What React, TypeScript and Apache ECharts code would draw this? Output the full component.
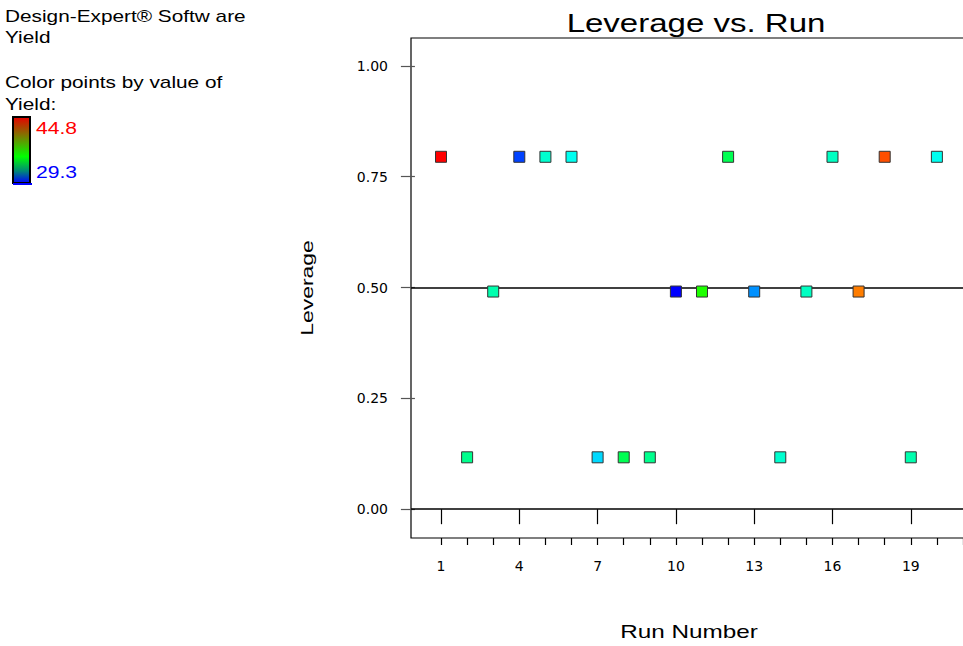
import React, { useEffect, useRef } from "react";
import * as echarts from "echarts";

const runs = [1, 2, 3, 4, 5, 6, 7, 8, 9, 10, 11, 12, 13, 14, 15, 16, 17, 18, 19, 20];
const leverage = [
  0.795, 0.117, 0.491, 0.795, 0.795, 0.795, 0.117, 0.117, 0.117, 0.491,
  0.491, 0.795, 0.491, 0.117, 0.491, 0.795, 0.491, 0.795, 0.117, 0.795,
];
const yieldValues = [
  44.8, 34.9, 34.4, 30.3, 33.9, 33.4, 32.6, 35.8, 34.9, 29.3,
  37.5, 35.8, 31.5, 33.9, 34.1, 34.1, 42.9, 43.6, 34.4, 33.4,
];
const yieldMin = 29.3;
const yieldMax = 44.8;
const yTicks = [0, 0.25, 0.5, 0.75, 1];
const xMajorTicks = [1, 4, 7, 10, 13, 16, 19, 22];
const xTickLabels = [1, 4, 7, 10, 13, 16, 19];
const xMinorTicks = [1, 2, 3, 4, 5, 6, 7, 8, 9, 10, 11, 12, 13, 14, 15, 16, 17, 18, 19, 20, 21, 22];
const referenceLines = [0, 0.5];

const FONT = "Liberation Sans";

export default function App() {
  const ref = useRef<HTMLDivElement>(null);
  useEffect(() => {
    if (!ref.current) return;
    const chart = echarts.init(ref.current, null, { renderer: "svg" });
    const txt = (
      text: string,
      x: number,
      y: number,
      size: number,
      color: string,
      sx: number,
      align = "left",
      rotation = 0
    ) => ({
      type: "text",
      x,
      y,
      scaleX: sx,
      rotation,
      silent: true,
      style: {
        text,
        x: 0,
        y: 0,
        fill: color,
        fontSize: size,
        fontFamily: FONT,
        align,
        verticalAlign: "middle",
      },
    });
    const option: any = {
      animation: false,
      grid: {
        left: 411,
        top: 38,
        width: 582,
        height: 500,
        show: true,
        borderColor: "#000",
        borderWidth: 1.2,
        containLabel: false,
        outerBoundsMode: "none",
      },
      xAxis: [
        {
          type: "value",
          position: "bottom",
          min: -0.15,
          max: 22.15,
          axisLine: { show: false },
          splitLine: { show: false },
          axisTick: { show: true, customValues: xMajorTicks, length: 15, lineStyle: { color: "#000", width: 1.2 } },
          axisLabel: {
            customValues: xTickLabels,
            margin: 21,
            fontSize: 14,
            fontFamily: "DejaVu Sans",
            color: "#000",
          },
        },
        {
          type: "value",
          position: "bottom",
          min: -0.15,
          max: 22.15,
          axisLine: { show: false },
          splitLine: { show: false },
          axisTick: { show: true, customValues: xMinorTicks, length: 7, lineStyle: { color: "#000", width: 1.2 } },
          axisLabel: { show: false },
        },
      ],
      yAxis: {
        type: "value",
        min: -0.065,
        max: 1.063,
        axisLine: { show: false },
        splitLine: { show: false },
        axisTick: { show: true, customValues: yTicks, length: 14, lineStyle: { color: "#555", width: 1.2 } },
        axisLabel: {
          customValues: yTicks,
          formatter: (v: number) => v.toFixed(2),
          margin: 23,
          fontSize: 14,
          fontFamily: "DejaVu Sans",
          color: "#000",
        },
      },
      visualMap: {
        show: false,
        type: "continuous",
        min: yieldMin,
        max: yieldMax,
        dimension: 2,
        seriesIndex: 0,
        inRange: { color: ["#0000ff", "#00ffff", "#00ff00", "#ffff00", "#ff0000"] },
      },
      series: [
        {
          type: "scatter",
          xAxisIndex: 0,
          data: runs.map((r, i) => [r, leverage[i], yieldValues[i]]),
          symbol: "rect",
          symbolSize: 11,
          itemStyle: { borderColor: "#333", borderWidth: 1, opacity: 1 },
          z: 5,
          markLine: {
            silent: true,
            symbol: "none",
            label: { show: false },
            lineStyle: { color: "#000", width: 1.5, type: "solid" },
            data: referenceLines.map((v) => ({ yAxis: v })),
          },
        },
      ],
      graphic: [
        txt("Design-Expert® Softw are", 5, 16, 16, "#000", 1.3),
        txt("Yield", 5, 37, 16, "#000", 1.3),
        txt("Color points by value of", 5, 82, 16, "#000", 1.3),
        txt("Yield:", 5, 104, 16, "#000", 1.3),
        {
          type: "rect",
          shape: { x: 13, y: 117, width: 17, height: 66 },
          style: {
            fill: new echarts.graphic.LinearGradient(0, 0, 0, 1, [
              { offset: 0, color: "#e80000" },
              { offset: 0.25, color: "#8a6a00" },
              { offset: 0.6, color: "#00ff00" },
              { offset: 0.82, color: "#008878" },
              { offset: 1, color: "#0000ff" },
            ]),
            stroke: "#000",
            lineWidth: 2,
          },
        },
        { type: "rect", shape: { x: 13, y: 183, width: 19, height: 2 }, style: { fill: "#0000ff" } },
        txt("44.8", 36, 128, 16, "#ff0000", 1.32),
        txt("29.3", 36, 172, 16, "#0000ff", 1.32),
        txt("Leverage vs. Run", 696, 23, 26, "#000", 1.27, "center"),
        txt("Leverage", 307, 288, 17, "#000", 1.35, "center", Math.PI / 2),
        txt("Run Number", 689, 632, 18, "#000", 1.35, "center"),
      ],
    };
    chart.setOption(option);
    return () => chart.dispose();
  }, []);
  return (
    <div
      ref={ref}
      style={{ position: "absolute", left: 0, top: 0, width: 963, height: 646, background: "#fff" }}
    />
  );
}
